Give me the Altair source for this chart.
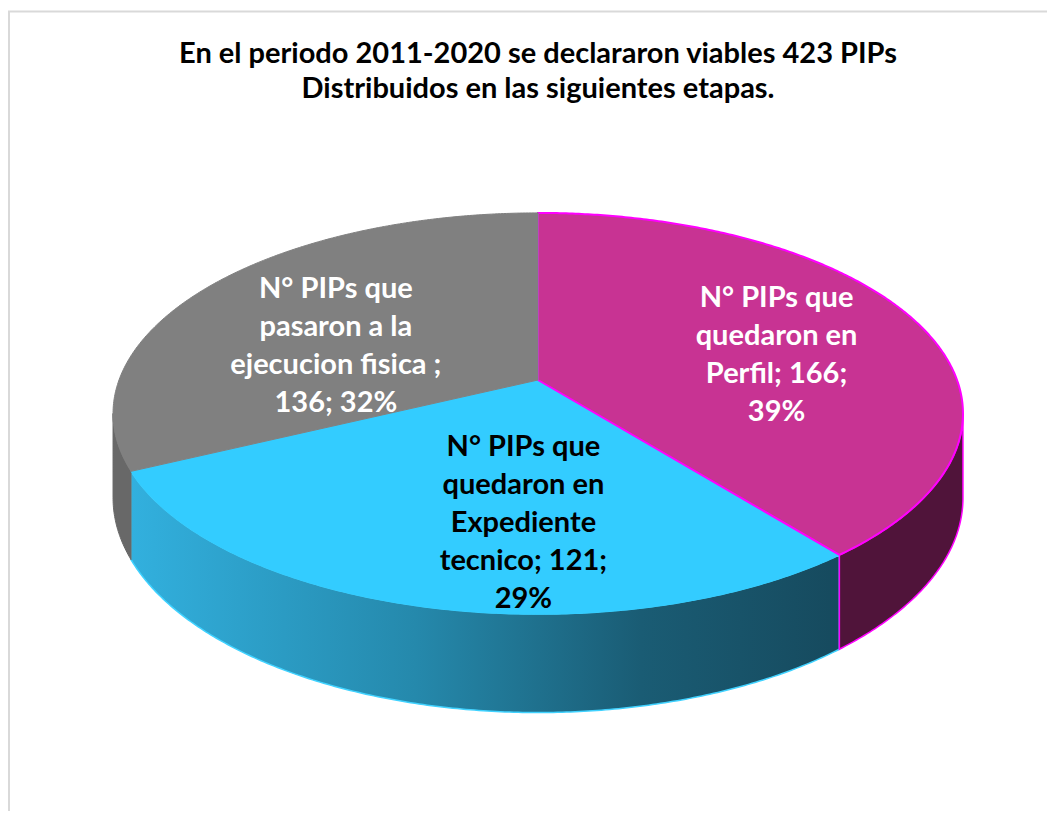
import textwrap
import numpy as np
import pandas as pd
import altair as alt

# ---------------- data ----------------
title_lines = [
    "En el periodo 2011-2020 se declararon viables 423 PIPs",
    "Distribuidos en las siguientes etapas.",
]
categories = [
    "N° PIPs que quedaron en Perfil",
    "N° PIPs que quedaron en Expediente tecnico",
    "N° PIPs que pasaron a la ejecucion fisica ",
]
values = [166, 121, 136]

# ---------------- styles / layout ----------------
face_colors = ["#C83393", "#33CCFF", "#808080"]
wall_colors = ["#50143A", "BLUE_GRADIENT", "#686868"]
edge_colors = ["#FF00FF", "#40D2FF", "#686868"]
label_colors = ["#FFFFFF", "#000000", "#FFFFFF"]
wrap_widths = [13, 13, 18]
label_nudge = [(9, 12), (47, 16), (0, 24)]

CX, CY = 538.0, 380.0          # pie centre (page pixels)
A, B, K = 419.0, 195.0, 0.167  # radii and perspective factor
DEPTH = 82.0
FONT = "Lato"
LABEL_SIZE = 29
LABEL_LH = 38
W, H = 1039, 803


def proj(t_deg, r=1.0, depth=0.0):
    t = np.radians(t_deg)
    u, v = r * np.sin(t), r * np.cos(t)
    w = 1 + K * v
    return CX + A * u / w, CY - B * v / w + depth / w


total = sum(values)
pcts = [round(v / total * 100) for v in values]
bounds = np.concatenate([[0], np.cumsum(values)]) / total * 360.0
vis0 = np.degrees(np.arccos(-K))
vis1 = 360.0 - vis0

rows = []
for i, cat in enumerate(categories):
    t1, t2 = bounds[i], bounds[i + 1]
    ts = np.linspace(t1, t2, int((t2 - t1) * 2) + 2)
    # top face
    pts = [(CX, CY)] + [proj(t) for t in ts] + [(CX, CY)]
    for j, (x, y) in enumerate(pts):
        rows.append(dict(slice=i, part="top", order=j, x=x, y=y))
    # visible outer wall
    s, e = max(t1, vis0), min(t2, vis1)
    if s < e:
        tw = np.linspace(s, e, int((e - s) * 2) + 2)
        pts = [proj(t) for t in tw] + [proj(t, depth=DEPTH) for t in tw[::-1]]
        pts.append(pts[0])
        for j, (x, y) in enumerate(pts):
            rows.append(dict(slice=i, part="wall", order=j, x=x, y=y))
poly = pd.DataFrame(rows)

lab_rows = []
for i, cat in enumerate(categories):
    txt = f"{cat}; {values[i]}; {pcts[i]}%"
    lines = textwrap.wrap(txt, wrap_widths[i])
    mid = (bounds[i] + bounds[i + 1]) / 2
    x, y = proj(mid, r=0.6)
    x += label_nudge[i][0]
    y += label_nudge[i][1]
    n = len(lines)
    first = y - (n - 1) * LABEL_LH / 2 + 10
    lab_rows.append(dict(slice=i, text="\n".join(lines), x=x, y=first))
labels = pd.DataFrame(lab_rows)

title_df = pd.DataFrame([dict(text="\n".join(title_lines), x=538, y=63)])

xs = alt.X("x:Q", scale=alt.Scale(domain=[8, 8 + W], nice=False, zero=False), axis=None)
ys = alt.Y("y:Q", scale=alt.Scale(domain=[8, 8 + H], nice=False, zero=False, reverse=True), axis=None)

blue_grad = alt.LinearGradient(
    gradient="linear",
    stops=[
        alt.GradientStop(color="#32B0DE", offset=0),
        alt.GradientStop(color="#2589AC", offset=0.4),
        alt.GradientStop(color="#1A5C74", offset=0.72),
        alt.GradientStop(color="#164A5E", offset=1),
    ],
    x1=0, x2=1, y1=0, y2=0,
)


def layer(i, part, fill, stroke, sw):
    return (
        alt.Chart(poly)
        .transform_filter((alt.datum.slice == i) & (alt.datum.part == part))
        .mark_line(fill=fill, stroke=stroke, strokeWidth=sw, interpolate="linear")
        .encode(x=xs, y=ys, order="order:Q")
    )


layers = []
# walls: blue, grey, magenta
layers.append(layer(1, "wall", blue_grad, edge_colors[1], 1.5))
layers.append(layer(2, "wall", wall_colors[2], wall_colors[2], 1))
layers.append(layer(0, "wall", wall_colors[0], edge_colors[0], 1.5))
# top faces: blue, magenta, grey
layers.append(layer(1, "top", face_colors[1], face_colors[1], 1))
layers.append(layer(0, "top", face_colors[0], edge_colors[0], 2))
layers.append(layer(2, "top", face_colors[2], face_colors[2], 1))

label_layer = (
    alt.Chart(labels)
    .mark_text(font=FONT, fontSize=LABEL_SIZE, fontWeight="bold", lineBreak="\n",
               lineHeight=LABEL_LH, align="center", baseline="alphabetic")
    .encode(
        x=xs, y=ys, text="text:N",
        color=alt.Color("slice:N", scale=alt.Scale(domain=[0, 1, 2], range=label_colors), legend=None),
    )
)

title_layer = (
    alt.Chart(title_df)
    .mark_text(font=FONT, fontSize=29, fontWeight="bold", lineBreak="\n",
               lineHeight=35, align="center", baseline="alphabetic", color="#000000")
    .encode(x=xs, y=ys, text="text:N")
)

border_top = alt.Chart(title_df).mark_rule(color="#D9D9D9", strokeWidth=2).encode(
    x=alt.value(0), x2=alt.value(W), y=alt.value(3.5))
border_left = alt.Chart(title_df).mark_rule(color="#D9D9D9", strokeWidth=2).encode(
    x=alt.value(1), y=alt.value(3.5), y2=alt.value(H))

chart = (
    alt.layer(border_top, border_left, *layers, label_layer, title_layer)
    .properties(width=W, height=H, padding=0, autosize=alt.AutoSizeParams(type="none"),
                background="#FFFFFF")
    .configure_view(stroke=None)
)

chart.save("out.html", embed_options={"renderer": "svg", "actions": False})
